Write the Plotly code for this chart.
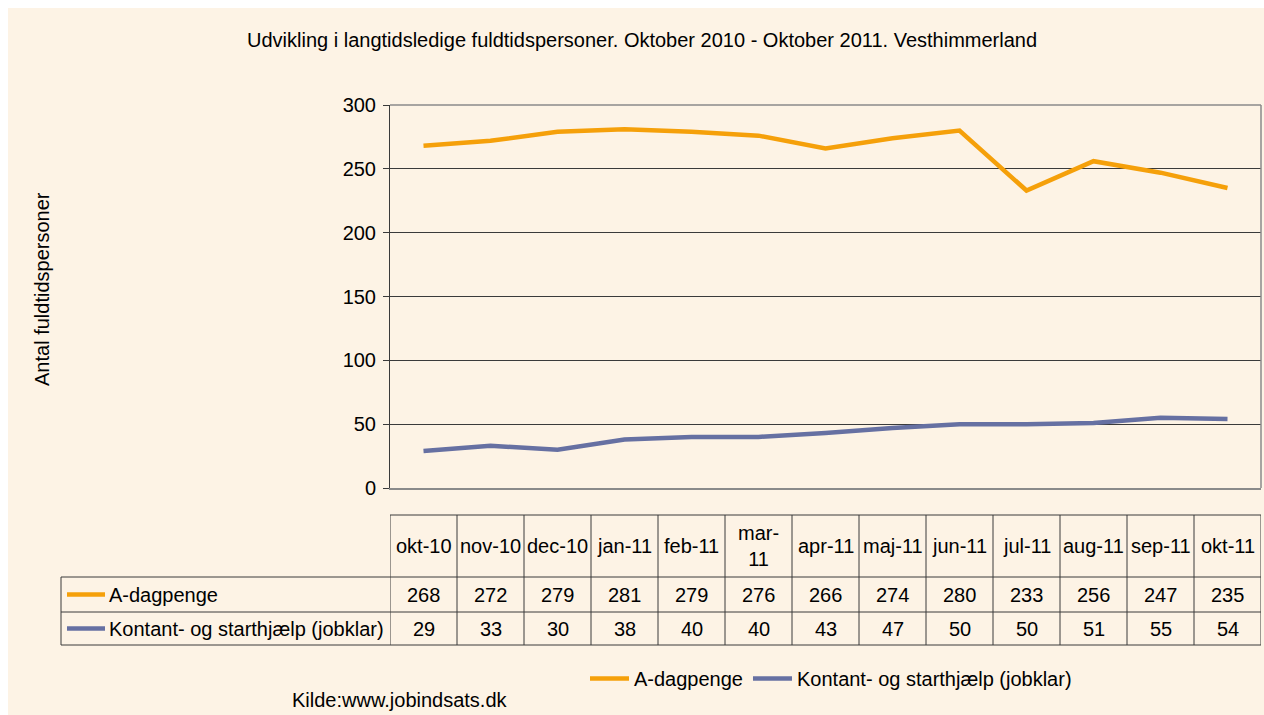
import plotly.graph_objects as go

months = ["okt-10", "nov-10", "dec-10", "jan-11", "feb-11", "mar-11", "apr-11",
          "maj-11", "jun-11", "jul-11", "aug-11", "sep-11", "okt-11"]
header_labels = ["okt-10", "nov-10", "dec-10", "jan-11", "feb-11", "mar-<br>11", "apr-11",
                 "maj-11", "jun-11", "jul-11", "aug-11", "sep-11", "okt-11"]
a_dagpenge = [268, 272, 279, 281, 279, 276, 266, 274, 280, 233, 256, 247, 235]
kontant = [29, 33, 30, 38, 40, 40, 43, 47, 50, 50, 51, 55, 54]
series_names = ["A-dagpenge", "Kontant- og starthjælp (jobklar)"]
series_values = [a_dagpenge, kontant]
series_colors = ["#F5A00A", "#6670A2"]

W, H = 1264, 715
L, R, T, B = 390, 3, 105, 227
PW, PH = W - L - R, H - T - B

def px(x):
    # x in page pixels -> paper fraction
    return (x - L) / PW

def py(y):
    return (H - B - y) / PH

FONT = "Liberation Sans, Arial, sans-serif"
BG = "#FDF3E5"
LINE = "#3a3a3a"
FS = 20

fig = go.Figure()
idx = list(range(len(months)))
for name, vals, col in zip(series_names, series_values, series_colors):
    fig.add_trace(go.Scatter(x=idx, y=vals, mode="lines", name=name,
                             line=dict(color=col, width=4.5)))

shapes = []
# white page border at top and left (as in the reference screenshot)
shapes.append(dict(type="rect", xref="paper", yref="paper", x0=px(-2), x1=px(8),
                   y0=py(H + 2), y1=py(-2), fillcolor="white", line=dict(width=0), layer="below"))
shapes.append(dict(type="rect", xref="paper", yref="paper", x0=px(-2), x1=px(W + 2),
                   y0=py(8), y1=py(-2), fillcolor="white", line=dict(width=0), layer="below"))
shapes.append(dict(type="line", xref="paper", yref="paper", x0=0, x1=1, y0=1, y1=1,
                   line=dict(color="#8a8a8a", width=1.5)))
shapes.append(dict(type="line", xref="paper", yref="paper", x0=1, x1=1, y0=0, y1=1,
                   line=dict(color="#8a8a8a", width=1.5)))

# table lines
y_head_top, y_r1, y_r2, y_r3 = 515, 577, 612, 645
x_left = 61
shapes.append(dict(type="line", xref="paper", yref="paper", x0=0, x1=1,
                   y0=py(y_head_top), y1=py(y_head_top), line=dict(color=LINE, width=1)))
for yy in (y_r1, y_r2, y_r3):
    shapes.append(dict(type="line", xref="paper", yref="paper", x0=px(x_left), x1=1,
                       y0=py(yy), y1=py(yy), line=dict(color=LINE, width=1)))
shapes.append(dict(type="line", xref="paper", yref="paper", x0=px(x_left), x1=px(x_left),
                   y0=py(y_r1), y1=py(y_r3), line=dict(color=LINE, width=1)))
for i in range(len(months) + 1):
    shapes.append(dict(type="line", xref="x", yref="paper", x0=i - 0.5, x1=i - 0.5,
                       y0=py(y_head_top), y1=py(y_r3), line=dict(color=LINE, width=1)))

annotations = []
for i, lab in enumerate(header_labels):
    annotations.append(dict(x=i, xref="x", y=py((y_head_top + y_r1) / 2), yref="paper",
                            text=lab, showarrow=False, font=dict(size=FS, color="#000"),
                            xanchor="center", yanchor="middle"))
row_centers = [(y_r1 + y_r2) / 2, (y_r2 + y_r3) / 2]
for name, vals, col, yc in zip(series_names, series_values, series_colors, row_centers):
    shapes.append(dict(type="line", xref="paper", yref="paper", x0=px(67), x1=px(105),
                       y0=py(yc), y1=py(yc), line=dict(color=col, width=4.5)))
    annotations.append(dict(x=px(107), xref="paper", y=py(yc), yref="paper", text=name,
                            showarrow=False, font=dict(size=FS, color="#000"),
                            xanchor="left", yanchor="middle"))
    for i, v in enumerate(vals):
        annotations.append(dict(x=i, xref="x", y=py(yc), yref="paper", text=str(v),
                                showarrow=False, font=dict(size=FS, color="#000"),
                                xanchor="center", yanchor="middle"))

annotations.append(dict(x=px(642), xref="paper", y=py(40), yref="paper",
                        text="Udvikling i langtidsledige fuldtidspersoner. Oktober 2010 - Oktober 2011. Vesthimmerland",
                        showarrow=False, font=dict(size=FS, color="#000"),
                        xanchor="center", yanchor="middle"))
annotations.append(dict(x=px(42), xref="paper", y=py(289), yref="paper",
                        text="Antal fuldtidspersoner", textangle=-90,
                        showarrow=False, font=dict(size=FS, color="#000"),
                        xanchor="center", yanchor="middle"))
annotations.append(dict(x=px(290), xref="paper", y=py(700), yref="paper",
                        text="Kilde:www.jobindsats.dk",
                        showarrow=False, font=dict(size=FS, color="#000"),
                        xanchor="left", yanchor="middle"))

fig.update_layout(
    width=W, height=H,
    margin=dict(l=L, r=R, t=T, b=B, pad=0),
    paper_bgcolor=BG, plot_bgcolor="rgba(0,0,0,0)",
    font=dict(family=FONT, size=FS, color="#000"),
    showlegend=True,
    legend=dict(orientation="h", x=px(585), xanchor="left", y=py(659), yanchor="top",
                bgcolor="rgba(0,0,0,0)", font=dict(size=FS), itemwidth=39,
                tracegroupgap=0),
    xaxis=dict(range=[-0.5, len(months) - 0.5], showticklabels=False, showgrid=False,
               zeroline=False, showline=True, linecolor="#8a8a8a", linewidth=1.5,
               ticks="", fixedrange=True),
    yaxis=dict(range=[0, 300], dtick=50, showgrid=True, gridcolor=LINE, gridwidth=1,
               zeroline=False, showline=True, linecolor=LINE, linewidth=1,
               ticks="outside", ticklen=6, tickcolor=LINE, ticklabelstandoff=3,
               tickfont=dict(size=FS, color="#000"), fixedrange=True),
    shapes=shapes, annotations=annotations,
)

fig.write_html("out.html",
               config={"displayModeBar": False},
               post_script="document.body.style.margin='0';"
                           "document.documentElement.style.overflow='hidden';"
                           "document.body.style.overflow='hidden';")
